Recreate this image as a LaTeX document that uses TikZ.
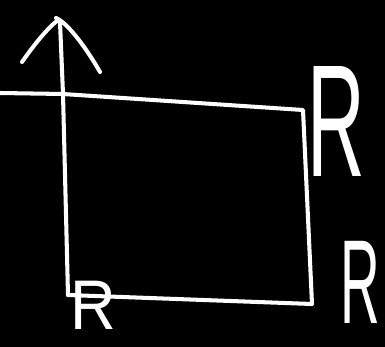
\documentclass[tikz,border=0pt]{standalone}
\usepackage{fontspec}
\setmainfont{Liberation Sans}
\usetikzlibrary{positioning}

\begin{document}
\begin{tikzpicture}[
    x=0.02cm, y=-0.02cm,
    stroke/.style={draw=white, line width=2.3pt, line cap=round, line join=round},
    letter/.style={text=white, inner sep=0pt, outer sep=0pt, anchor=center},
]
% Background
\fill[black] (0,0) rectangle (385,347);
\useasboundingbox (0,0) rectangle (385,347);

% Corners of the box
\coordinate (topleft) at (63,94);
\coordinate (topright) at (303,110);
\coordinate (botright) at (312,304);
\coordinate (botleft) at (68,295);
\coordinate (axistop) at (60,22);
\coordinate (lineleft) at (0,93);

% Axis with arrow
\draw[stroke] (botleft) -- (topleft) -- (axistop);
\draw[stroke] (22,62) .. controls (36,42) and (48,28) .. (58,20);
\draw[stroke] (56,18) .. controls (66,22) and (84,44) .. (100,72);

% Box
\draw[stroke] (lineleft) -- (topleft) -- (topright) -- (botright) -- (botleft);

% Labels
\node[letter, font=\fontsize{91}{91}\selectfont] (rtop) at (336,122) {\scalebox{0.5}[1]{R}};
\node[letter, font=\fontsize{68}{68}\selectfont] (rright) at (360,282) {\scalebox{0.46}[1]{R}};
\node[letter, font=\fontsize{40}{40}\selectfont] (rleft) at (93,305) {\scalebox{0.9}[1]{R}};
\end{tikzpicture}
\end{document}
